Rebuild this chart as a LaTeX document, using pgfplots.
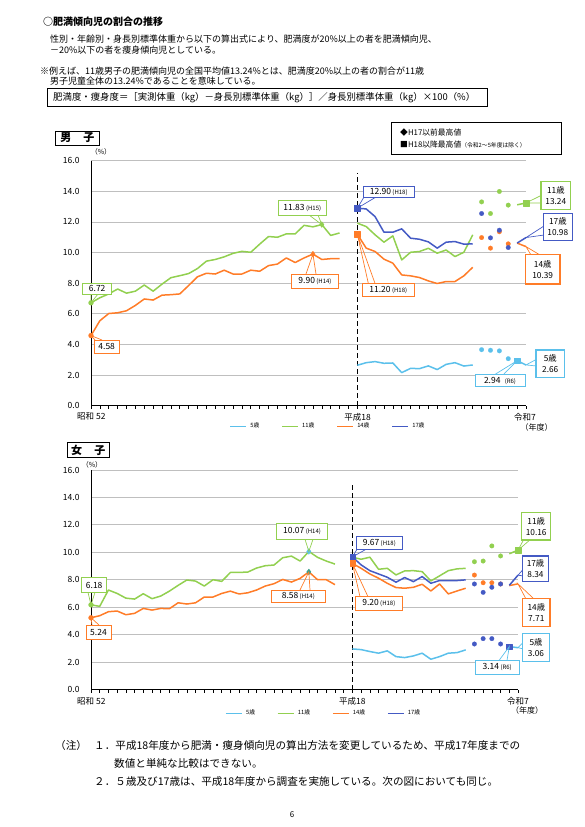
\documentclass[border=0pt]{standalone}
\usepackage{pgfplots}
\pgfplotsset{compat=1.18}
\usepackage{fontspec}
\setmainfont{Noto Sans CJK JP}
\definecolor{c5}{RGB}{91,192,235}
\definecolor{c11}{RGB}{146,208,80}
\definecolor{c14}{RGB}{255,124,40}
\definecolor{c17}{RGB}{68,90,196}
\definecolor{teal2}{RGB}{60,160,140}
\pgfplotsset{
 jp/.style={
  scale only axis, xmin=0, xmax=49, ymin=0, ymax=16,
  axis x line*=bottom, axis y line*=left,
  axis line style={black, line width=1pt},
  xtick={0,...,49}, xticklabels={},
  ytick={0,2,...,16},
  yticklabels={0.0,2.0,4.0,6.0,8.0,10.0,12.0,14.0,16.0},
  yticklabel style={font=\fontsize{8.5}{10}\selectfont, xshift=-5pt},
  ytick style={draw=none},
  xtick style={black, line width=0.6pt},
  tick align=outside, major tick length=3pt,
  ymajorgrids, grid style={black!25, line width=0.9pt},
  clip=false,
  legend image code/.code={\draw[##1, line width=1.3pt] (0pt,0pt) -- (16pt,0pt);},
  legend style={draw=none, fill=none, anchor=center, legend columns=4,
    font=\fontsize{5.8}{6}\selectfont, inner sep=0pt,
    /tikz/every odd column/.style={column sep=1.5pt},
    /tikz/every even column/.style={column sep=20pt}},
  every axis plot/.append style={line width=1.5pt, line join=round},
 },
 dot/.style={only marks, mark=*, mark size=2.3pt, mark options={line width=0.2pt}},
 sq/.style={only marks, mark=square*, mark size=2.8pt, mark options={line width=0.2pt}},
 dia/.style={only marks, mark=diamond*, mark size=3pt, mark options={line width=0.2pt}},
}
\tikzset{
 cb/.style={draw=#1, line width=0.8pt, fill=white, inner sep=0pt, align=center, font=\fontsize{8.5}{10}\selectfont},
 wl/.style={draw=#1, line width=0.7pt},
 tx/.style={inner sep=0pt, anchor=west},
}
\newcommand{\sm}[1]{{\fontsize{6}{7}\selectfont #1}}
\begin{document}
\begin{tikzpicture}
\useasboundingbox (0pt,0pt) rectangle (584pt,-827pt);
% ================= MALE =================
\begin{axis}[jp, at={(91pt,-405.7pt)}, anchor=south west, width=435pt, height=245pt,
  legend style={at={(0.545,-0.084)}}]
\addlegendimage{c5}\addlegendentry{5歳}
\addlegendimage{c11}\addlegendentry{11歳}
\addlegendimage{c14}\addlegendentry{14歳}
\addlegendimage{c17}\addlegendentry{17歳}
\draw[black, line width=0.9pt, dash pattern=on 5pt off 3pt] (axis cs:30,0) -- (axis cs:30,15.2);
% 11 years
\addplot[c11, forget plot] coordinates {(0,6.72)(1,7.05)(2,7.30)(3,7.62)(4,7.35)(5,7.48)(6,7.88)(7,7.48)(8,7.94)(9,8.36)(10,8.49)(11,8.63)(12,8.96)(13,9.44)(14,9.55)(15,9.72)(16,9.95)(17,10.08)(18,10.02)(19,10.55)(20,11.05)(21,11.00)(22,11.22)(23,11.22)(24,11.78)(25,11.68)(26,11.83)(27,11.12)(28,11.28)};
% 14 years
\addplot[c14, forget plot] coordinates {(0,4.58)(1,5.55)(2,6.02)(3,6.07)(4,6.20)(5,6.55)(6,6.97)(7,6.90)(8,7.22)(9,7.25)(10,7.30)(11,7.85)(12,8.42)(13,8.65)(14,8.60)(15,8.85)(16,8.60)(17,8.60)(18,8.85)(19,8.78)(20,9.15)(21,9.25)(22,9.65)(23,9.35)(24,9.65)(25,9.90)(26,9.55)(27,9.60)(28,9.60)};
% post H18 lines
\addplot[c5, forget plot] coordinates {(30,2.64)(31,2.81)(32,2.88)(33,2.77)(34,2.79)(35,2.16)(36,2.44)(37,2.42)(38,2.60)(39,2.36)(40,2.70)(41,2.81)(42,2.59)(43,2.66)};
\addplot[c11, forget plot] coordinates {(30,11.92)(31,11.70)(32,11.16)(33,10.68)(34,11.09)(35,9.52)(36,10.02)(37,10.07)(38,10.28)(39,9.96)(40,10.17)(41,9.74)(42,10.02)(43,11.16)};
\addplot[c14, forget plot] coordinates {(30,11.20)(31,10.29)(32,10.07)(33,9.57)(34,9.31)(35,8.54)(36,8.48)(37,8.37)(38,8.15)(39,7.98)(40,8.11)(41,8.11)(42,8.48)(43,9.04)};
\addplot[c17, forget plot] coordinates {(30,12.90)(31,12.85)(32,12.35)(33,11.33)(34,11.33)(35,11.55)(36,10.94)(37,10.87)(38,10.70)(39,10.29)(40,10.68)(41,10.72)(42,10.55)(43,10.57)};
% R2-R5 dots
\addplot[c5, dot, forget plot] coordinates {(44,3.66)(45,3.62)(46,3.58)(47,3.07)};
\addplot[c11, dot, forget plot] coordinates {(44,13.31)(45,12.55)(46,13.99)(47,13.10)};
\addplot[c14, dot, forget plot] coordinates {(44,10.98)(45,10.29)(46,11.36)(47,10.57)};
\addplot[c17, dot, forget plot] coordinates {(44,12.55)(45,10.96)(46,11.46)(47,10.33)};
% R6-R7
\addplot[c5, forget plot] coordinates {(48,2.94)(49,2.66)};
\addplot[c11, forget plot] coordinates {(48,13.12)(49,13.24)};
\addplot[c14, forget plot] coordinates {(48,10.62)(49,10.39)};
\addplot[c17, forget plot] coordinates {(48,10.62)(49,10.98)};
% markers
\addplot[c11, dot, mark size=2.5pt, forget plot] coordinates {(0,6.72)};
\addplot[c14, dot, mark size=2.5pt, forget plot] coordinates {(0,4.58)};
\addplot[c11, dia, forget plot] coordinates {(26,11.83)};
\addplot[c14, dia, forget plot] coordinates {(25,9.90)};
\addplot[c17, sq, forget plot] coordinates {(30,12.90)};
\addplot[c14, sq, forget plot] coordinates {(30,11.20)};
\addplot[c11, sq, forget plot] coordinates {(49,13.24)};
\addplot[c5, sq, forget plot] coordinates {(48,2.94)};
\coordinate (Ma) at (axis cs:0,6.72);
\coordinate (Mb) at (axis cs:0,4.58);
\coordinate (Mc) at (axis cs:26,11.83);
\coordinate (Md) at (axis cs:25,9.90);
\coordinate (Me) at (axis cs:30,12.90);
\coordinate (Mf) at (axis cs:30,11.20);
\coordinate (Mg) at (axis cs:49,13.24);
\coordinate (Mh) at (axis cs:49,10.98);
\coordinate (Mi) at (axis cs:49,10.39);
\coordinate (Mj) at (axis cs:49,2.66);
\coordinate (Mk) at (axis cs:48,2.94);
\end{axis}
% ================= FEMALE =================
\begin{axis}[jp, at={(91pt,-689.7pt)}, anchor=south west, width=427pt, height=219.7pt,
  legend style={at={(0.545,-0.107)}}]
\addlegendimage{c5}\addlegendentry{5歳}
\addlegendimage{c11}\addlegendentry{11歳}
\addlegendimage{c14}\addlegendentry{14歳}
\addlegendimage{c17}\addlegendentry{17歳}
\draw[black, line width=0.9pt, dash pattern=on 5pt off 3pt] (axis cs:30,0) -- (axis cs:30,15.0);
\addplot[c11, forget plot] coordinates {(0,6.18)(1,6.07)(2,7.26)(3,7.01)(4,6.67)(5,6.60)(6,6.99)(7,6.63)(8,6.82)(9,7.18)(10,7.60)(11,7.99)(12,7.91)(13,7.55)(14,8.01)(15,7.89)(16,8.54)(17,8.54)(18,8.57)(19,8.86)(20,9.03)(21,9.08)(22,9.61)(23,9.73)(24,9.37)(25,10.07)(26,9.64)(27,9.37)(28,9.15)};
\addplot[c14, forget plot] coordinates {(0,5.24)(1,5.39)(2,5.68)(3,5.73)(4,5.46)(5,5.56)(6,5.92)(7,5.80)(8,5.92)(9,5.90)(10,6.33)(11,6.24)(12,6.33)(13,6.75)(14,6.75)(15,7.01)(16,7.18)(17,6.97)(18,7.06)(19,7.26)(20,7.55)(21,7.72)(22,8.03)(23,7.84)(24,8.11)(25,8.58)(26,8.01)(27,8.01)(28,7.65)};
\addplot[c5, forget plot] coordinates {(30,2.97)(31,2.92)(32,2.78)(33,2.66)(34,2.83)(35,2.41)(36,2.34)(37,2.46)(38,2.66)(39,2.22)(40,2.41)(41,2.66)(42,2.70)(43,2.90)};
\addplot[c11, forget plot] coordinates {(30,9.65)(31,9.50)(32,9.65)(33,8.77)(34,8.84)(35,8.36)(36,8.65)(37,8.67)(38,8.60)(39,7.92)(40,8.29)(41,8.67)(42,8.80)(43,8.84)};
\addplot[c14, forget plot] coordinates {(30,9.20)(31,8.84)(32,8.43)(33,8.12)(34,7.75)(35,7.44)(36,7.39)(37,7.46)(38,7.68)(39,7.19)(40,7.70)(41,6.98)(42,7.19)(43,7.39)};
\addplot[c17, forget plot] coordinates {(30,9.67)(31,9.09)(32,8.67)(33,8.43)(34,8.19)(35,7.83)(36,8.17)(37,7.87)(38,8.24)(39,7.75)(40,7.95)(41,7.95)(42,7.95)(43,8.00)};
\addplot[c17, dot, forget plot] coordinates {(44,3.33)(45,3.72)(46,3.72)(47,3.33)};
\addplot[c11, dot, forget plot] coordinates {(44,9.32)(45,9.37)(46,10.47)(47,9.74)};
\addplot[c14, dot, forget plot] coordinates {(44,8.35)(45,7.79)(46,7.79)(47,7.70)};
\addplot[c17, dot, forget plot] coordinates {(44,7.70)(45,7.09)(46,7.46)(47,7.70)};
\addplot[c5, forget plot] coordinates {(48,3.14)(49,3.06)};
\addplot[c11, forget plot] coordinates {(48,9.90)(49,10.16)};
\addplot[c14, forget plot] coordinates {(48,7.58)(49,7.71)};
\addplot[c17, forget plot] coordinates {(48,7.60)(49,8.34)};
\addplot[c11, dot, mark size=2.5pt, forget plot] coordinates {(0,6.18)};
\addplot[c14, dot, mark size=2.5pt, forget plot] coordinates {(0,5.24)};
\addplot[c5, dia, forget plot] coordinates {(25,10.07)};
\addplot[teal2, dia, forget plot] coordinates {(25,8.58)};
\addplot[c17, sq, forget plot] coordinates {(30,9.67)};
\addplot[c14, sq, forget plot] coordinates {(30,9.20)};
\addplot[c11, sq, forget plot] coordinates {(49,10.16)};
\addplot[c17, sq, forget plot] coordinates {(48,3.14)};
\coordinate (Fa) at (axis cs:0,6.18);
\coordinate (Fb) at (axis cs:0,5.24);
\coordinate (Fc) at (axis cs:25,10.07);
\coordinate (Fd) at (axis cs:25,8.58);
\coordinate (Fe) at (axis cs:30,9.67);
\coordinate (Ff) at (axis cs:30,9.20);
\coordinate (Fg) at (axis cs:49,10.16);
\coordinate (Fh) at (axis cs:49,8.34);
\coordinate (Fi) at (axis cs:49,7.71);
\coordinate (Fj) at (axis cs:49,3.06);
\coordinate (Fk) at (axis cs:48,3.14);
\end{axis}
% ================= OVERLAY =================
\begin{scope}[x=1pt, y=-1pt]
% header
\node[tx, font=\fontsize{10}{12}\selectfont\bfseries] at (43,22) {○肥満傾向児の割合の推移};
\node[tx, font=\fontsize{9.0}{11}\selectfont] at (50,39.3) {性別・年齢別・身長別標準体重から以下の算出式により、肥満度が20\%以上の者を肥満傾向児、};
\node[tx, font=\fontsize{9.0}{11}\selectfont] at (50,50.3) {－20\%以下の者を痩身傾向児としている。};
\node[tx, font=\fontsize{9.0}{11}\selectfont] at (40,71) {※例えば、11歳男子の肥満傾向児の全国平均値13.24\%とは、肥満度20\%以上の者の割合が11歳};
\node[tx, font=\fontsize{9.0}{11}\selectfont] at (50,80.7) {男子児童全体の13.24\%であることを意味している。};
\draw[line width=0.9pt] (47.7,88) rectangle (487.7,106.7);
\node[tx, font=\fontsize{9.4}{12}\selectfont] at (53,97.3) {肥満度・痩身度＝［実測体重（kg）－身長別標準体重（kg）］／身長別標準体重（kg）×100（\%）};
% male decorations
\node[draw, line width=0.9pt, minimum width=43.3pt, minimum height=14pt, inner sep=0pt, font=\fontsize{11}{12}\selectfont\bfseries] at (77.3,138) {男\hspace{1.1em}子};
\node[font=\fontsize{7}{8}\selectfont, inner sep=0pt] at (101,152.3) {（\%）};
\draw[line width=0.8pt] (391.7,122.7) rectangle (561.7,154.3);
\node[tx, font=\fontsize{7.8}{9}\selectfont] at (400,132.3) {◆H17以前最高値};
\node[tx, font=\fontsize{7.8}{9}\selectfont] at (400,144.3) {■H18以降最高値{\fontsize{5.8}{7}\selectfont（令和2〜5年度は除く）}};
\node[font=\fontsize{8.5}{10}\selectfont, inner sep=0pt] at (91.3,416.7) {昭和 52};
\node[font=\fontsize{8.5}{10}\selectfont, inner sep=0pt] at (357.5,417.7) {平成18};
\node[font=\fontsize{8.5}{10}\selectfont, inner sep=0pt] at (525,417.7) {令和7};
\node[font=\fontsize{8}{10}\selectfont, inner sep=0pt] at (536.7,427.3) {（年度）};
% male callouts
\draw[wl=c11] (91,294) -- (Ma) -- (98,294);
\node[cb=c11, minimum width=29pt, minimum height=10.7pt] at (97.2,288.7) {6.72};
\draw[wl=c14] (95,340) -- (Mb) -- (102,340);
\node[cb=c14, minimum width=25.3pt, minimum height=13.3pt] at (106.7,346.7) {4.58};
\draw[wl=c11] (309,215) -- (Mc) -- (318,215);
\node[cb=c11, minimum width=47.3pt, minimum height=15pt] at (302.3,207.5) {11.83\,\sm{(H15)}};
\draw[wl=c14] (306,274) -- (Md) -- (316,274);
\node[cb=c14, minimum width=46.6pt, minimum height=14.3pt] at (315,281.2) {9.90\,\sm{(H14)}};
\draw[wl=c17] (364,197) -- (Me) -- (376,197);
\node[cb=c17, minimum width=50.7pt, minimum height=11.3pt] at (388.7,191.7) {12.90\,\sm{(H18)}};
\draw[wl=c14] (368.3,283.3) -- (Mf) -- (375,283.3);
\node[cb=c14, minimum width=51.3pt, minimum height=13.3pt] at (388.3,290) {11.20\,\sm{(H18)}};
\draw[wl=c11] (542,195) -- (Mg) -- (542,203);
\node[cb=c11, line width=1.2pt, minimum width=29.7pt, minimum height=27.6pt, font=\fontsize{8.3}{11}\selectfont] at (555.8,195.5) {11歳\\13.24};
\draw[wl=c17] (544,226) -- (Mh) -- (544,235);
\node[cb=c17, line width=1.2pt, minimum width=29pt, minimum height=27.4pt, font=\fontsize{8.3}{11}\selectfont] at (557.8,227) {17歳\\10.98};
\draw[wl=c14] (531,255) -- (Mi) -- (540,255);
\node[cb=c14, line width=1.2pt, minimum width=34.7pt, minimum height=29.7pt, font=\fontsize{8.3}{11}\selectfont] at (542.7,269.2) {14歳\\10.39};
\draw[wl=c5] (537,359) -- (Mj) -- (537,366);
\node[cb=c5, line width=1.2pt, minimum width=28.3pt, minimum height=27.3pt, font=\fontsize{8.3}{11}\selectfont] at (550.2,363.7) {5歳\\2.66};
\draw[wl=c5] (494,375) -- (Mk) -- (503,375);
\node[cb=c5, minimum width=50pt, minimum height=12.4pt] at (500,380.5) {2.94\enspace\sm{(R6)}};
% female decorations
\node[draw, line width=0.9pt, minimum width=41.7pt, minimum height=14.6pt, inner sep=0pt, font=\fontsize{11}{12}\selectfont\bfseries] at (88.2,450) {女\hspace{1.1em}子};
\node[font=\fontsize{7}{8}\selectfont, inner sep=0pt] at (92,465) {（\%）};
\node[font=\fontsize{8.5}{10}\selectfont, inner sep=0pt] at (91.3,701) {昭和 52};
\node[font=\fontsize{8.5}{10}\selectfont, inner sep=0pt] at (352.4,701) {平成18};
\node[font=\fontsize{8.5}{10}\selectfont, inner sep=0pt] at (518,701) {令和7};
\node[font=\fontsize{8}{10}\selectfont, inner sep=0pt] at (527,710.7) {（年度）};
% female callouts
\draw[wl=c11] (88,592.3) -- (Fa) -- (95,592.3);
\node[cb=c11, minimum width=25pt, minimum height=14.6pt] at (94.2,585) {6.18};
\draw[wl=c14] (92,625) -- (Fb) -- (99,625);
\node[cb=c14, minimum width=25pt, minimum height=14.3pt] at (98.5,632.2) {5.24};
\draw[wl=c11] (305,539.3) -- (Fc) -- (313,539.3);
\node[cb=c11, minimum width=50.6pt, minimum height=16pt] at (302,531.3) {10.07\,\sm{(H14)}};
\draw[wl=c14] (300,590) -- (Fd) -- (310,590);
\node[cb=c14, minimum width=53.3pt, minimum height=12.7pt] at (298.3,596.3) {8.58\,\sm{(H14)}};
\draw[wl=c17] (357,549.3) -- (Fe) -- (366,549.3);
\node[cb=c17, minimum width=46.7pt, minimum height=12.6pt] at (379.3,543) {9.67\,\sm{(H18)}};
\draw[wl=c14] (360,596.7) -- (Ff) -- (368,596.7);
\node[cb=c14, minimum width=47.7pt, minimum height=13.3pt] at (378.8,603.3) {9.20\,\sm{(H18)}};
\draw[wl=c11] (524,539) -- (Fg) -- (531,539);
\node[cb=c11, line width=1.2pt, minimum width=29pt, minimum height=27.3pt, font=\fontsize{8.3}{11}\selectfont] at (536.2,526.3) {11歳\\10.16};
\draw[wl=c17] (523.5,569) -- (Fh) -- (523.5,576);
\node[cb=c17, line width=1.2pt, minimum width=25.6pt, minimum height=25.7pt, font=\fontsize{8.3}{11}\selectfont] at (535.5,568.8) {17歳\\8.34};
\draw[wl=c14] (526,599) -- (Fi) -- (534,599);
\node[cb=c14, line width=1.2pt, minimum width=27.3pt, minimum height=28.4pt, font=\fontsize{8.3}{11}\selectfont] at (536.3,612.5) {14歳\\7.71};
\draw[wl=c5] (523.5,642) -- (Fj) -- (523.5,649);
\node[cb=c5, line width=1.2pt, minimum width=26.6pt, minimum height=28.4pt, font=\fontsize{8.3}{11}\selectfont] at (536,647.5) {5歳\\3.06};
\draw[wl=c5] (499,660.5) -- (Fk) -- (507,660.5);
\node[cb=c5, minimum width=44.3pt, minimum height=14pt] at (497.2,667) {3.14\,\sm{(R6)}};
% footnotes
\node[tx, font=\fontsize{10.6}{12}\selectfont] at (55,745) {（注）};
\node[tx, font=\fontsize{10.6}{12}\selectfont] at (94,745) {１．平成18年度から肥満・痩身傾向児の算出方法を変更しているため、平成17年度までの};
\node[tx, font=\fontsize{10.6}{12}\selectfont] at (114,763) {数値と単純な比較はできない。};
\node[tx, font=\fontsize{10.6}{12}\selectfont] at (94,781) {２．５歳及び17歳は、平成18年度から調査を実施している。次の図においても同じ。};
\node[font=\fontsize{8}{9}\selectfont, inner sep=0pt] at (292,815) {6};
\end{scope}
\end{tikzpicture}
\end{document}
